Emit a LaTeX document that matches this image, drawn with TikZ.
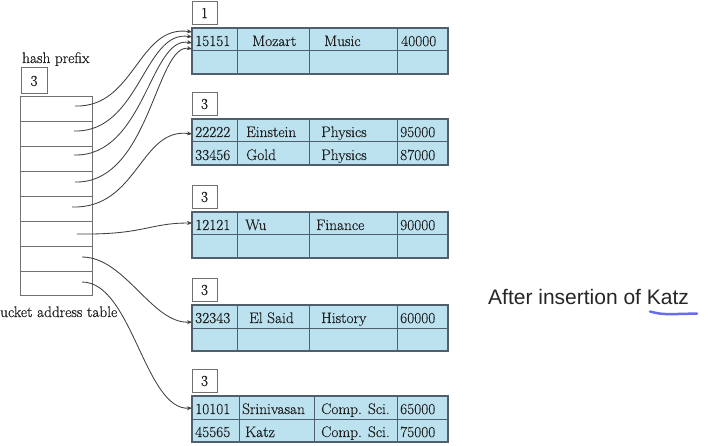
\documentclass[tikz,border=0pt]{standalone}
\usepackage{fontspec}
\setmainfont{Latin Modern Roman}[FakeBold=0.35]
\newfontfamily\sansfont{Liberation Sans}
\usetikzlibrary{arrows.meta}
\definecolor{cellblue}{HTML}{BCE2F0}
\definecolor{cellline}{HTML}{4F5F6B}
\definecolor{boxline}{HTML}{707070}
\definecolor{arrowcol}{HTML}{404040}
\definecolor{penblue}{HTML}{6B6BEF}
\begin{document}
\begin{tikzpicture}[x=1pt,y=-1pt,
  every node/.style={font=\fontsize{15.3}{18}\selectfont, text=black!88},
  depthbox/.style={draw=boxline, fill=white, line width=1pt, minimum width=25pt, minimum height=23pt, inner sep=0pt},
  bucketbox/.style={draw=cellline, fill=cellblue, line width=1.1pt, minimum width=256pt, minimum height=46pt, inner sep=0pt},
  sep/.style={draw=cellline, line width=1pt},
  addrcell/.style={draw=boxline, fill=white, line width=1pt, minimum width=72pt, minimum height=24.875pt, inner sep=0pt},
  txt/.style={anchor=base west, inner sep=0pt},
  ptr/.style={draw=arrowcol, line width=0.85pt, -{Stealth[length=5pt,width=4pt]}}
]
\fill[white] (0,0) rectangle (712,446);
\useasboundingbox (0,0) rectangle (712,446);

% bucket address table
\node[txt] (hplabel) at (22,63) {hash prefix};
\node[depthbox, minimum width=26pt, minimum height=26pt] (hp) at (34,81) {3};
\foreach \i in {0,...,7} {
  \node[addrcell] (r\i) at (56,{97+24.875*(\i+0.5)}) {};
}
\node[txt] (batlabel) at (0,317) {ucket address table};

% buckets
\foreach \n/\t/\d in {1/28/1,2/119/3,3/212/3,4/305/3,5/396/3} {
  \node[depthbox] (d\n) at (204.5,\t-15) {\d};
  \node[bucketbox] (b\n) at (320,\t+23) {};
  \draw[sep] (b\n.west) -- (b\n.east);
}
\foreach \n in {1,2,3,4} {
  \foreach \o in {46,118,206} {
    \draw[sep] ([xshift=\o pt]b\n.north west) -- ([xshift=\o pt]b\n.south west);
  }
}
\foreach \o in {48,123,206} {
  \draw[sep] ([xshift=\o pt]b5.north west) -- ([xshift=\o pt]b5.south west);
}

% bucket 1
\node[txt] (c11) at (195,46) {15151};
\node[txt] (c12) at (252,46) {Mozart};
\node[txt] (c13) at (324,46) {Music};
\node[txt] (c14) at (401,46) {40000};
% bucket 2
\node[txt] (c21) at (195,137) {22222};
\node[txt] (c22) at (246,137) {Einstein};
\node[txt] (c23) at (321,137) {Physics};
\node[txt] (c24) at (400,137) {95000};
\node[txt] (c25) at (195,160) {33456};
\node[txt] (c26) at (246,160) {Gold};
\node[txt] (c27) at (321,160) {Physics};
\node[txt] (c28) at (400,160) {87000};
% bucket 3
\node[txt] (c31) at (195,230) {12121};
\node[txt] (c32) at (245,230) {Wu};
\node[txt] (c33) at (316,230) {Finance};
\node[txt] (c34) at (400,230) {90000};
% bucket 4
\node[txt] (c41) at (195,323) {32343};
\node[txt] (c42) at (249,323) {El Said};
\node[txt] (c43) at (321,323) {History};
\node[txt] (c44) at (400,323) {60000};
% bucket 5
\node[txt] (c51) at (195,414) {10101};
\node[txt] (c52) at (242,414) {Srinivasan};
\node[txt] (c53) at (321,414) {Comp. Sci.};
\node[txt] (c54) at (400,414) {65000};
\node[txt] (c55) at (195,437) {45565};
\node[txt] (c56) at (245,437) {Katz};
\node[txt] (c57) at (321,437) {Comp. Sci.};
\node[txt] (c58) at (400,437) {75000};

% pointer start and end points
\coordinate (a0) at (75,106);
\coordinate (a1) at (74,131);
\coordinate (a2) at (74,155);
\coordinate (a3) at (75,182);
\coordinate (a4) at (72,207);
\coordinate (a5) at (77,234);
\coordinate (a6) at (82,257);
\coordinate (a7) at (82,282);
\coordinate (e0) at (192,32);
\coordinate (e1) at (192,37);
\coordinate (e2) at (192,43);
\coordinate (e3) at (192,49);
\coordinate (e4) at (192,134);
\coordinate (e5) at (192,223);
\coordinate (e6) at (192,322);
\coordinate (e7) at (192,408);

\draw[ptr] (a0) .. controls (135,108) and (138,24) .. (e0);
\draw[ptr] (a1) .. controls (140,133) and (144,29) .. (e1);
\draw[ptr] (a2) .. controls (145,157) and (150,35) .. (e2);
\draw[ptr] (a3) .. controls (150,184) and (156,42) .. (e3);
\draw[ptr] (a4) .. controls (138,209) and (140,127) .. (e4);
\draw[ptr] (a5) .. controls (145,235) and (148,223) .. (e5);
\draw[ptr] (a6) .. controls (125,257) and (152,324) .. (e6);
\draw[ptr] (a7) .. controls (132,282) and (145,411) .. (e7);

% annotation
\node[anchor=base west, inner sep=0pt, font=\sansfont\fontsize{21}{24}\selectfont, text=black!85] (note) at (488,305) {After insertion of Katz};
\coordinate (u0) at (650,311.5);
\coordinate (u1) at (697,313.5);
\draw[draw=penblue, line width=2.5pt, line cap=round] (u0) .. controls (662,314.5) .. (u1);
\end{tikzpicture}
\end{document}
